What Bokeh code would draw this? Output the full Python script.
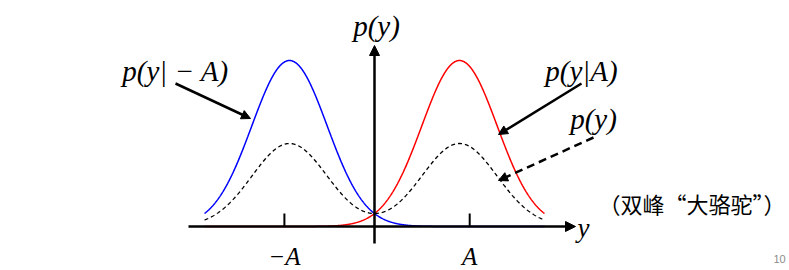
import numpy as np
from bokeh.plotting import figure
from bokeh.models import Range1d, Arrow, NormalHead
from bokeh.core.properties import value
from bokeh.embed import file_html
from bokeh.resources import INLINE

# ---- data ----
means = [-1.0, 1.0]          # peaks at -A and +A
sigma = 0.443                 # width of each Gaussian (in units of A)
peak = 1.0                    # peak height of p(y|±A)
mix_weights = [0.5, 0.5]      # p(y) = 0.5 p(y|-A) + 0.5 p(y|A)
y_lo, y_hi = -2.0, 2.0        # span of the drawn curves
tick_positions = [-1.06, 1.12]
tick_labels = ["\u2212A", "A"]
axis_label_x = "y"
axis_label_y = "p(y)"
curve_labels = ["p(y| \u2212 A)", "p(y|A)", "p(y)"]
caption = "（双峰“大骆驼”）"
page_number = "10"

# ---- geometry of the page (data units: x in A, y in peak heights) ----
PX_X, X0 = 85.0, 374.0
PX_Y, Y0 = 166.0, 226.0
W, H = 789, 270

def dx(px):
    return (px - X0) / PX_X

def dy(py):
    return (Y0 - py) / PX_Y

p = figure(width=W, height=H, output_backend="svg", toolbar_location=None,
           x_range=Range1d(dx(0), dx(W)), y_range=Range1d(dy(H), dy(0)),
           min_border=0, border_fill_color="white", background_fill_color="white")
p.axis.visible = False
p.grid.visible = False
p.outline_line_color = None

y = np.linspace(y_lo, y_hi, 801)
g_minus = peak * np.exp(-(y - means[0]) ** 2 / (2 * sigma ** 2))
g_plus = peak * np.exp(-(y - means[1]) ** 2 / (2 * sigma ** 2))
mix = mix_weights[0] * g_minus + mix_weights[1] * g_plus

p.line(y, g_minus, line_color="#0000ff", line_width=1.5)
p.line(y, g_plus, line_color="#ff0000", line_width=1.5)
p.line(y, mix, line_color="black", line_width=1.3, line_dash="4 3")

# axes with arrowheads
p.add_layout(Arrow(x_start=dx(188), y_start=0, x_end=dx(575), y_end=0,
                   line_width=2.5, line_color="black",
                   end=NormalHead(size=10, fill_color="black", line_color="black", line_width=1)))
p.add_layout(Arrow(x_start=0, y_start=dy(243), x_end=0, y_end=dy(45),
                   line_width=2.5, line_color="black",
                   end=NormalHead(size=10, fill_color="black", line_color="black", line_width=1)))

# ticks
p.segment(x0=tick_positions, y0=[0, 0], x1=tick_positions, y1=[dy(213)] * 2,
          line_color="black", line_width=2)

serif = value("Liberation Serif")
p.text(x=tick_positions, y=[dy(256)] * 2, text=tick_labels, text_font=serif,
       text_font_style="italic", text_font_size="25px",
       text_align="center", text_baseline="middle")
p.text(x=[dx(583)], y=[dy(227)], text=[axis_label_x], text_font=serif,
       text_font_style="italic", text_font_size="27px",
       text_align="center", text_baseline="middle")
p.text(x=[dx(376)], y=[dy(25)], text=[axis_label_y], text_font=serif,
       text_font_style="italic", text_font_size="29px",
       text_align="center", text_baseline="middle")

label_x = [dx(175), dx(581), dx(593)]
label_y = [dy(70), dy(70), dy(118)]
p.text(x=label_x, y=label_y, text=curve_labels, text_font=serif,
       text_font_style="italic", text_font_size="29px",
       text_align="center", text_baseline="middle")

# pointer arrows
arrow_start = [(175, 83), (581, 83), (593, 137)]
arrow_end = [(250, 118), (498, 134), (498, 180)]
arrow_dash = ["solid", "solid", "8 5"]
for (sx, sy), (ex, ey), d in zip(arrow_start, arrow_end, arrow_dash):
    p.add_layout(Arrow(x_start=dx(sx), y_start=dy(sy), x_end=dx(ex), y_end=dy(ey),
                       line_width=2.5, line_color="black", line_dash=d,
                       end=NormalHead(size=9, fill_color="black", line_color="black", line_width=1)))

p.text(x=[dx(697)], y=[dy(202)], text=[caption], text_font=value("Noto Sans CJK SC"),
       text_font_size="22px", text_align="center", text_baseline="middle")
p.text(x=[dx(779)], y=[dy(258)], text=[page_number], text_font=value("Liberation Sans"),
       text_font_size="11px", text_color="#8c8c8c", text_align="center", text_baseline="middle")

open("out.html", "w").write(file_html(p, INLINE))
